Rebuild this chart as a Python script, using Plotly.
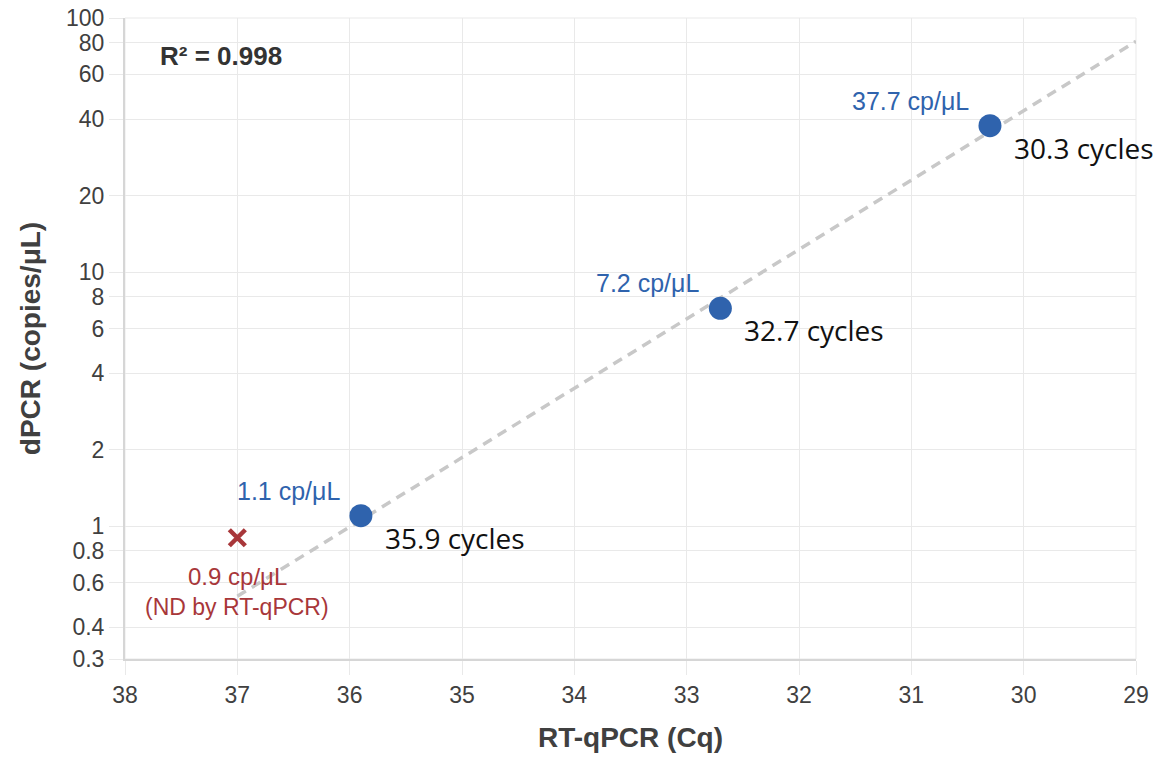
import numpy as np
import plotly.graph_objects as go

# Data
cq = [35.9, 32.7, 30.3]
copies = [1.1, 7.2, 37.7]
nd_cq = [37.0]
nd_copies = [0.9]
x_ticks = [38, 37, 36, 35, 34, 33, 32, 31, 30, 29]
y_ticks = [0.3, 0.4, 0.6, 0.8, 1, 2, 4, 6, 8, 10, 20, 40, 60, 80, 100]
y_tick_text = ["0.3", "0.4", "0.6", "0.8", "1", "2", "4", "6", "8", "10", "20", "40", "60", "80", "100"]
r2_text = "R² = 0.998"
fit_range = [37, 29]

BLUE = "#2f63ad"
RED = "#a8373a"
GRAY = "#404040"
FONT = "Liberation Sans, Arial"

slope, intercept = np.polyfit(cq, np.log10(copies), 1)
fx = np.array(fit_range, dtype=float)
fy = 10 ** (slope * fx + intercept)

fig = go.Figure()
fig.add_trace(go.Scatter(x=fx, y=fy, mode="lines",
                         line=dict(color="#c8c8c8", width=3.5, dash="10px,7px"),
                         hoverinfo="skip", showlegend=False))
fig.add_trace(go.Scatter(x=cq, y=copies, mode="markers",
                         marker=dict(color=BLUE, size=23, line=dict(width=0)),
                         showlegend=False))
fig.add_trace(go.Scatter(x=nd_cq, y=nd_copies, mode="markers",
                         marker=dict(color=RED, size=16, symbol="x-thin",
                                     line=dict(color=RED, width=4.5)),
                         showlegend=False))

for x, y in zip(cq, copies):
    fig.add_annotation(x=x, y=np.log10(y), xref="x", yref="y",
                       text=f"{y} cp/μL", showarrow=False,
                       font=dict(family=FONT, size=25, color=BLUE),
                       xanchor="right", yanchor="middle", xshift=-19, yshift=25)
    fig.add_annotation(x=x, y=np.log10(y), xref="x", yref="y",
                       text=f"{x} cycles", showarrow=False,
                       font=dict(family="Open Sans, Arial", size=28, color="#111111"),
                       xanchor="left", yanchor="middle", xshift=22, yshift=-22)

for x, y in zip(nd_cq, nd_copies):
    fig.add_annotation(x=x, y=np.log10(y), xref="x", yref="y",
                       text=f"{y} cp/μL", showarrow=False,
                       font=dict(family=FONT, size=24, color=RED),
                       xanchor="center", yanchor="middle", yshift=-39)
    fig.add_annotation(x=x, y=np.log10(y), xref="x", yref="y",
                       text="(ND by RT-qPCR)", showarrow=False,
                       font=dict(family=FONT, size=23, color=RED),
                       xanchor="center", yanchor="middle", yshift=-69)

fig.add_annotation(x=(158 - 125) / 1011, y=(659 - 56) / 641, xref="paper", yref="paper",
                   text=f"<b>{r2_text}</b>", showarrow=False,
                   font=dict(family=FONT, size=26, color="#333333"),
                   xanchor="left", yanchor="middle")

axis_common = dict(showgrid=True, gridcolor="#e9e9e9", gridwidth=1,
                   ticks="outside", ticklen=14, tickcolor="#e9e9e9", tickwidth=1,
                   showline=True, linecolor="#d6d6d6", linewidth=2,
                   zeroline=False, automargin=False)

fig.update_xaxes(range=[38, 29], tickvals=x_ticks,
                 tickfont=dict(family=FONT, size=23, color=GRAY),
                 title=dict(text="<b>RT-qPCR (Cq)</b>", standoff=21,
                            font=dict(family=FONT, size=28, color=GRAY)),
                 **axis_common)
fig.update_yaxes(type="log", range=[np.log10(0.3), 2], tickvals=y_ticks, ticktext=y_tick_text,
                 tickfont=dict(family=FONT, size=23, color=GRAY),
                 title=dict(text="<b>dPCR (copies/μL)</b>", standoff=17,
                            font=dict(family=FONT, size=28, color=GRAY)),
                 **axis_common)

fig.add_shape(type="rect", xref="paper", yref="paper", x0=0, y0=0, x1=1, y1=1,
              line=dict(color="#e9e9e9", width=1), layer="below")

fig.update_layout(width=1155, height=757,
                  margin=dict(l=125, r=19, t=18, b=98),
                  paper_bgcolor="white", plot_bgcolor="white",
                  showlegend=False)

fig.write_html("out.html", config={"displayModeBar": False},
               post_script="document.body.style.margin='0';document.body.style.overflow='hidden';")
